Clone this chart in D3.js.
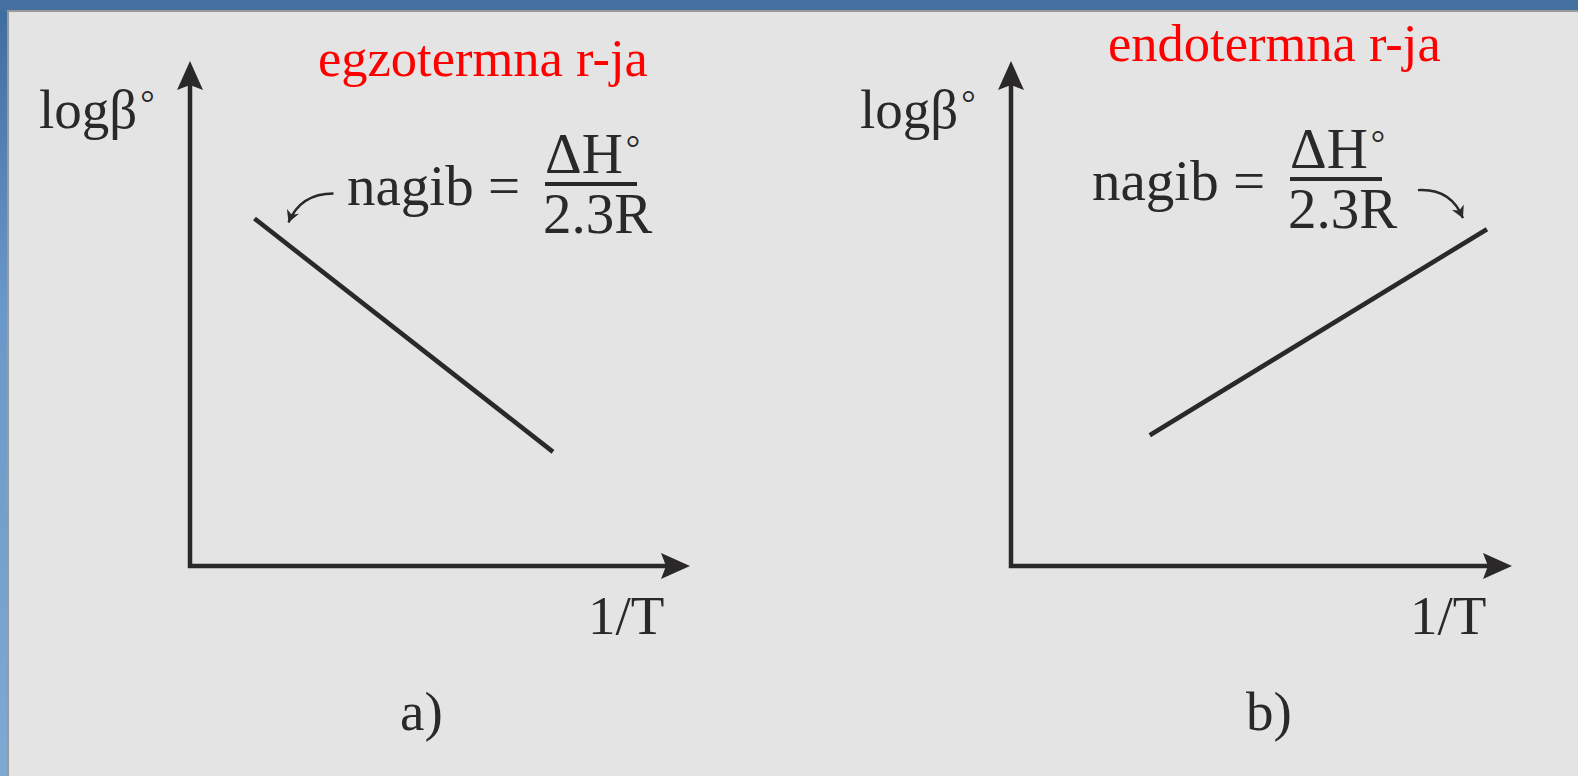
<!DOCTYPE html>
<html>
<head>
<meta charset="utf-8">
<script src="https://cdn.jsdelivr.net/npm/d3@7"></script>
<style>
  html, body { margin: 0; padding: 0; background: #4b78a8; overflow: hidden; }
  svg { display: block; }
  text { font-family: "Liberation Serif", "Times New Roman", serif; }
</style>
</head>
<body>
<svg id="chart" width="1578" height="776"></svg>
<script>
// Two schematic van 't Hoff plots: log β° against 1/T
const panelLabels = ["a)", "b)"];
const titles = ["egzotermna r-ja", "endotermna r-ja"];
const yLabel = "logβ";
const xLabel = "1/T";
const slopeText = "nagib =";
const numerator = "ΔH";
const denominator = "2.3R";
const degree = "°";

// line end points in axis units (0–10 on both axes)
const exoLine = [[1.29, 6.88], [7.26, 2.26]];
const endoLine = [[2.77, 2.59], [9.50, 6.67]];
const lines = [exoLine, endoLine];

const W = 1578, H = 776;
const svg = d3.select("#chart");
const ink = "#2a2828";

// backdrop and sheet
const defs = svg.append("defs");
const bg = defs.append("linearGradient").attr("id", "bgGrad").attr("x1", 0).attr("y1", 0).attr("x2", 0).attr("y2", 1);
bg.append("stop").attr("offset", "0").attr("stop-color", "#3f6c9e");
bg.append("stop").attr("offset", "0.4").attr("stop-color", "#6a98c8");
bg.append("stop").attr("offset", "1").attr("stop-color", "#7fa9d3");
svg.append("rect").attr("width", W).attr("height", H).attr("fill", "url(#bgGrad)");
svg.append("rect").attr("x", 0).attr("y", 0).attr("width", W).attr("height", 12).attr("fill", "#44709f");
svg.append("rect").attr("x", 8).attr("y", 11).attr("width", W).attr("height", H)
  .attr("fill", "#e4e4e4").attr("stroke", "#9a9a9a").attr("stroke-width", 2);

// per-panel scales
const panels = [
  { x: d3.scaleLinear().domain([0, 10]).range([190, 690]),
    y: d3.scaleLinear().domain([0, 10]).range([566, 61]) },
  { x: d3.scaleLinear().domain([0, 10]).range([1011, 1512]),
    y: d3.scaleLinear().domain([0, 10]).range([566, 61]) }
];

const headLen = 29, headHalf = 13;

// text followed by a small raised degree mark
function withDegree(sel, main) {
  sel.append("tspan").text(main);
  sel.append("tspan").attr("font-size", 36).attr("dx", 3).attr("dy", -13).text(degree);
  return sel;
}

panels.forEach((p, i) => {
  const g = svg.append("g");
  const x0 = p.x(0), y0 = p.y(0), xTip = p.x(10), yTip = p.y(10);

  // axes: a single corner path, shortened so the heads cover the ends
  g.append("path")
    .attr("d", `M${x0},${yTip + headLen - 4}V${y0}H${xTip - headLen + 4}`)
    .attr("fill", "none").attr("stroke", ink).attr("stroke-width", 4.5)
    .attr("stroke-linejoin", "miter").attr("stroke-linecap", "square");
  g.append("path")
    .attr("d", `M${x0},${yTip}L${x0 - headHalf},${yTip + headLen}L${x0},${yTip + headLen - 5}L${x0 + headHalf},${yTip + headLen}Z`)
    .attr("fill", ink);
  g.append("path")
    .attr("d", `M${xTip},${y0}L${xTip - headLen},${y0 - headHalf}L${xTip - headLen + 5},${y0}L${xTip - headLen},${y0 + headHalf}Z`)
    .attr("fill", ink);

  // the straight line
  g.append("path")
    .attr("d", d3.line().x(d => p.x(d[0])).y(d => p.y(d[1]))(lines[i]))
    .attr("fill", "none").attr("stroke", ink).attr("stroke-width", 4.6);

  // axis titles
  withDegree(g.append("text").attr("x", x0 - 151).attr("y", 128)
    .attr("font-size", 55).attr("fill", ink), yLabel);
  g.append("text").attr("x", xTip - 102).attr("y", 634)
    .attr("font-size", 55).attr("fill", ink).text(xLabel);

  // panel letter
  g.append("text").attr("x", x0 + 210 + (i ? 25 : 0)).attr("y", 730)
    .attr("font-size", 55).attr("fill", ink).text(panelLabels[i]);

  // red heading
  g.append("text").attr("x", i ? 1108 : 318).attr("y", i ? 61 : 76)
    .attr("font-size", 52.5).attr("fill", "#ff0000").text(titles[i]);
});

// slope annotations
const notes = [
  { tx: 347, base: 205, fx: 545, barW: 92 },
  { tx: 1092, base: 200, fx: 1290, barW: 92 }
];
notes.forEach((n, i) => {
  const g = svg.append("g").attr("fill", ink);
  const bar = n.base - 21;
  g.append("text").attr("x", n.tx).attr("y", n.base).attr("font-size", 57).text(slopeText);
  withDegree(g.append("text").attr("x", n.fx).attr("y", bar - 11).attr("font-size", 57), numerator);
  g.append("line").attr("x1", n.fx).attr("x2", n.fx + n.barW).attr("y1", bar).attr("y2", bar)
    .attr("stroke", ink).attr("stroke-width", 4);
  g.append("text").attr("x", n.fx - 2).attr("y", bar + 49).attr("font-size", 57).text(denominator);
});

// small curved pointers from the formula to each line
const p0 = panels[0], p1 = panels[1];
const aEnd = [p0.x(exoLine[0][0]) + 34, p0.y(exoLine[0][1]) + 4];
const bEnd = [p1.x(endoLine[1][0]) - 24, p1.y(endoLine[1][1]) - 11];
const pointers = [
  { d: `M${aEnd[0] + 45},${aEnd[1] - 29}Q${aEnd[0] + 12},${aEnd[1] - 29} ${aEnd[0]},${aEnd[1]}`, tip: aEnd, ang: 112 },
  { d: `M${bEnd[0] - 45},${bEnd[1] - 28}Q${bEnd[0] - 12},${bEnd[1] - 30} ${bEnd[0]},${bEnd[1]}`, tip: bEnd, ang: 65 }
];
pointers.forEach(pt => {
  svg.append("path").attr("d", pt.d).attr("fill", "none")
    .attr("stroke", ink).attr("stroke-width", 2.4);
  svg.append("path")
    .attr("d", "M0,0L-12,-6.5L-8.5,0L-12,6.5Z")
    .attr("transform", `translate(${pt.tip[0]},${pt.tip[1]}) rotate(${pt.ang})`)
    .attr("fill", ink);
});
</script>
</body>
</html>
